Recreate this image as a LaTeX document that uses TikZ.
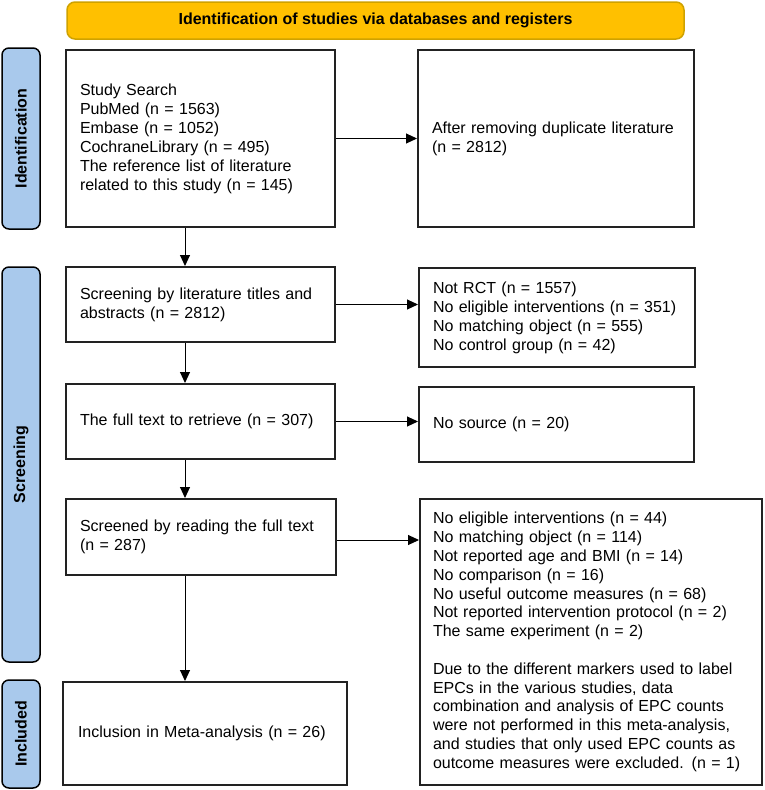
\documentclass[tikz,border=0pt]{standalone}
\usepackage{fontspec}
\setmainfont{Liberation Sans}
\usetikzlibrary{arrows.meta}
\definecolor{bannerfill}{HTML}{FFC000}
\definecolor{bannerdraw}{HTML}{CFA200}
\definecolor{labfill}{HTML}{A9C9EC}
\definecolor{boxline}{HTML}{222222}
\begin{document}
\begin{tikzpicture}[x=1pt,y=-1pt,
  box/.style n args={3}{draw=boxline, line width=2pt, inner xsep=14pt, inner ysep=0pt,
    align=left, font=\fontsize{16}{19}\selectfont,
    minimum width=#1pt, minimum height=#2pt, text width=#3pt},
  lab/.style n args={1}{draw=black, fill=labfill, line width=1.5pt, rounded corners=7pt,
    font=\bfseries\fontsize{16}{19}\selectfont, rotate=90, inner sep=0pt,
    minimum width=#1pt, minimum height=38pt},
  banner/.style={draw=bannerdraw, fill=bannerfill, line width=1.5pt, rounded corners=8pt,
    font=\bfseries\fontsize{16}{19}\selectfont, minimum width=617pt, minimum height=37pt, inner sep=0pt},
  arr/.style={line width=1pt, -{Triangle[length=11pt,width=10pt]}}
]
\useasboundingbox (0,0) rectangle (764,790);

\node[banner] (banner) at (375.5,20.5) {Identification of studies via databases and registers};

\node[lab={181}] (idlab) at (21,138.5) {Identification};
\node[lab={395}] (scrlab) at (21,464.5) {Screening};
\node[lab={108}] (inclab) at (21,734) {Included};

\node[box={269}{177}{241}] (study) at (200.5,138.5) {Study Search\\PubMed (n = 1563)\\Embase (n = 1052)\\CochraneLibrary (n = 495)\\The reference list of literature\\related to this study (n = 145)};
\node[box={276}{177}{248}] (dup) at (556,138.5) {After removing duplicate literature\\(n = 2812)};

\node[box={269}{75}{241}] (s1) at (200.5,304.5) {Screening by literature titles and\\abstracts (n = 2812)};
\node[box={276}{99}{248}] (e1) at (557,317.5) {Not RCT (n = 1557)\\No eligible interventions (n = 351)\\No matching object (n = 555)\\No control group (n = 42)};

\node[box={269}{75}{241}] (s2) at (200.5,421.5) {The full text to retrieve (n = 307)};
\node[box={275}{75}{247}] (e2) at (556.5,424.5) {No source (n = 20)};

\node[box={270}{76}{242}] (s3) at (201,537) {Screened by reading the full text\\(n = 287)};
\node[box={342}{286}{316}, font=\fontsize{16}{18.8}\selectfont, inner xsep=13pt] (e3) at (591,642) {No eligible interventions (n = 44)\\No matching object (n = 114)\\Not reported age and BMI (n = 14)\\No comparison (n = 16)\\No useful outcome measures (n = 68)\\Not reported intervention protocol (n = 2)\\The same experiment (n = 2)\\[18.8pt]Due to the different markers used to label\\EPCs in the various studies, data\\combination and analysis of EPC counts\\were not performed in this meta-analysis,\\and studies that only used EPC counts as\\outcome measures were excluded. (n = 1)};

\node[box={284}{103}{254}, inner xsep=15pt] (inc) at (205,733.5) {Inclusion in Meta-analysis (n = 26)};

\coordinate (ax) at (185,0);

\draw[arr] (study.east) -- (study.east -| dup.west);
\draw[arr] (s1.east) -- (s1.east -| e1.west);
\draw[arr] (s2.east) -- (s2.east -| e2.west);
\draw[arr] ([yshift=-3pt]s3.east) -- ([yshift=-3pt]s3.east -| e3.west);

\draw[arr] (study.south -| ax) -- (s1.north -| ax);
\draw[arr] (s1.south -| ax) -- (s2.north -| ax);
\draw[arr] (s2.south -| ax) -- (s3.north -| ax);
\draw[arr] (s3.south -| ax) -- (inc.north -| ax);
\end{tikzpicture}
\end{document}
